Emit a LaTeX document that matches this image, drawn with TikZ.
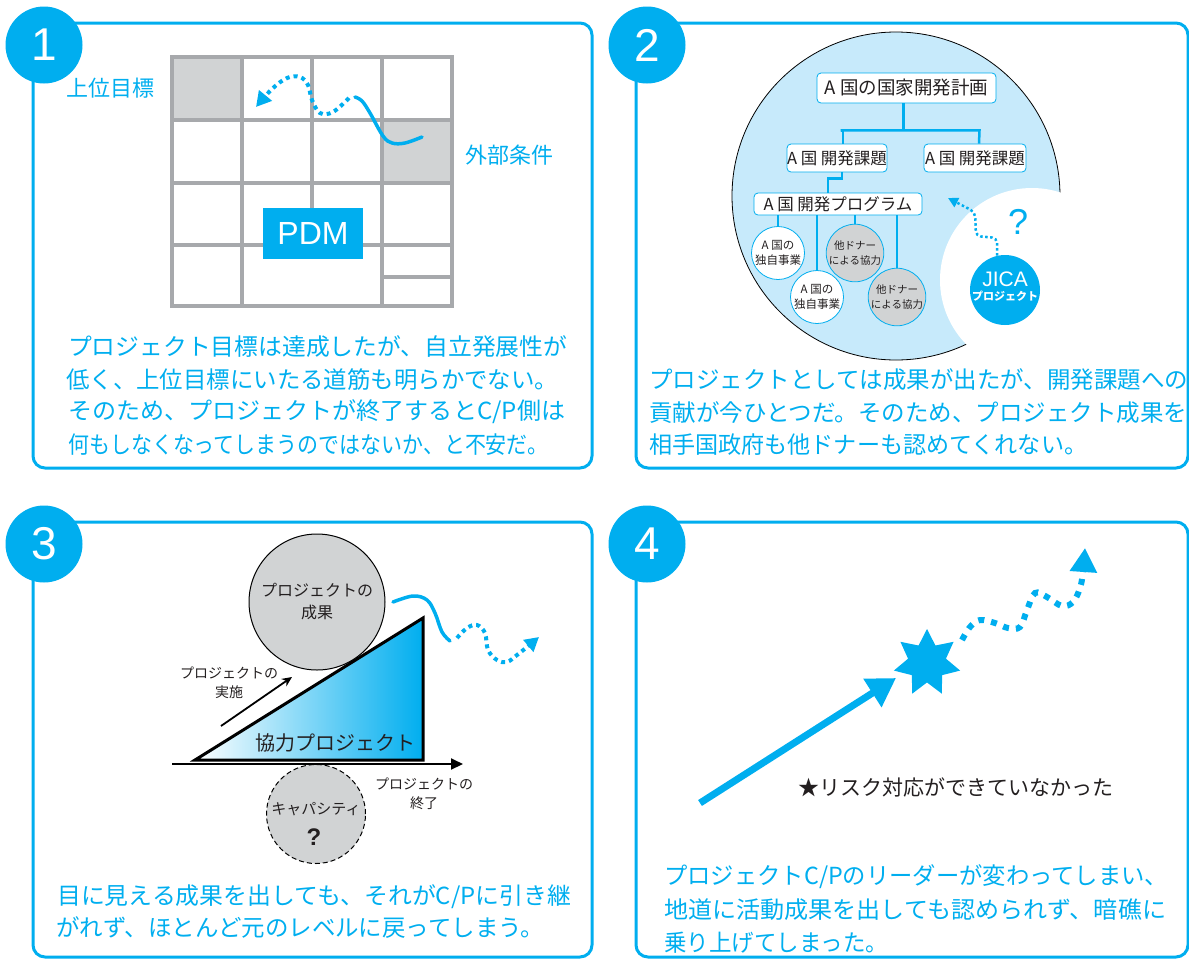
\documentclass[tikz,border=0pt]{standalone}
\usepackage{fontspec}
\usepackage{graphicx}
\setmainfont{Noto Sans CJK JP}
\newfontfamily\latf{Liberation Sans}
\usetikzlibrary{arrows.meta,shapes.geometric}
\definecolor{cy}{HTML}{00AEEF}
\definecolor{lb}{HTML}{C7EAFB}
\definecolor{gr}{HTML}{D1D3D4}
\definecolor{gl}{HTML}{A7A9AC}
\definecolor{ink}{HTML}{231F20}
\newcommand{\fl}[2]{\resizebox{#1pt}{\height}{#2}}
\newcommand{\fs}[1]{\fontsize{#1}{#1}\selectfont}
\begin{document}
\begin{tikzpicture}[x=1pt,y=-1pt,
  frame/.style={draw=cy,line width=3pt,rounded corners=12pt},
  numc/.style={circle,fill=cy,minimum size=77pt,inner sep=0pt,text=white,font=\latf\fs{46}},
  body/.style={anchor=west,inner sep=0pt,text=cy,font=\fs{23.5}},
  lab/.style={inner sep=0pt,text=cy,font=\fs{22}},
  gridl/.style={draw=gl,line width=3.5pt},
  dotl/.style={draw=cy,line width=4pt,dash pattern=on 4pt off 4pt},
  solidw/.style={draw=cy,line width=3.5pt,line cap=round},
  tbox/.style={draw=cy,line width=0.8pt,fill=white,rounded corners=4pt,inner sep=0pt,text=ink},
  conn/.style={draw=cy,line width=2.5pt},
  sc/.style={circle,draw=cy,line width=0.8pt,minimum size=53pt,inner sep=0pt,align=center,text=ink},
  dk/.style={text=ink,inner sep=0pt}
]
\useasboundingbox (0,0) rectangle (1189,962);
\clip (0,0) rectangle (1189,962);

% ---------------- frames ----------------
\draw[frame] (33,23) rectangle (592,468);
\draw[frame] (636,23) rectangle (1188,468);
\draw[frame] (33,522) rectangle (592,957);
\draw[frame] (636,522) rectangle (1188,957);
\node[numc] (n1) at (44,45) {1};
\node[numc] (n2) at (647,45) {2};
\node[numc] (n3) at (44,544) {3};
\node[numc] (n4) at (647,544) {4};

% ---------------- panel 1 ----------------
\fill[gr] (172,57) rectangle (242,120);
\fill[gr] (382,120) rectangle (452,183);
\draw[gridl] (172,57) rectangle (452,306);
\draw[gridl] (172,120) -- (452,120) (172,183) -- (452,183) (172,245) -- (452,245) (382,277) -- (452,277);
\draw[gridl] (242,57) -- (242,306) (312,57) -- (312,245) (382,57) -- (382,306);
\node[fill=cy,minimum width=100pt,minimum height=51pt,inner sep=0pt,text=white,font=\latf\fs{32}] (pdm) at (313,233) {PDM};
\node[lab] (ujo) at (110,88) {上位目標};
\node[lab] (gai) at (509,155) {外部条件};
\draw[solidw] plot[smooth,tension=0.6] coordinates {(422,137) (405,143) (392,143) (383,136) (370,113) (362,101) (355,97)};
\draw[dotl,-{Triangle[length=15pt,width=16pt]}] plot[smooth,tension=0.6] coordinates {(349,98) (333,112) (320,113) (312,100) (308,85) (300,77) (287,78) (272,89) (256,107)};
\node[body] (p1a) at (68,347) {\fl{499}{プロジェクト目標は達成したが、自立発展性が}};
\node[body] (p1b) at (66,380) {\fl{492}{低く、上位目標にいたる道筋も明らかでない。}};
\node[body] (p1c) at (68,412) {\fl{497}{そのため、プロジェクトが終了するとC/P側は}};
\node[body] (p1d) at (68,445) {\fl{480}{何もしなくなってしまうのではないか、と不安だ。}};

% ---------------- panel 2 ----------------
\fill[lb,draw=black,line width=0.8pt] (896,196) circle (164);
\fill[white] (1032,280) circle (92);
\node[tbox,minimum width=179pt,minimum height=30pt,font=\fs{18.5}] (t0) at (906.5,88) {A 国の国家開発計画};
\node[tbox,minimum width=100pt,minimum height=28pt,font=\fs{16.5}] (t1) at (837,158) {A 国 開発課題};
\node[tbox,minimum width=102pt,minimum height=28pt,font=\fs{16.5}] (t2) at (975,158) {A 国 開発課題};
\node[tbox,minimum width=168pt,minimum height=22pt,font=\fs{16.5}] (t3) at (838,204) {A 国 開発プログラム};
\draw[conn] ([xshift=-3pt]t0.south) -- ++(0,27) coordinate (j0);
\draw[conn] ([xshift=-63pt]j0) -| ([xshift=6pt]t1.north);
\draw[conn] ([xshift=-63pt]j0) -- ([xshift=76pt]j0) -- ([xshift=4pt]t2.north);
\draw[conn] ([xshift=5pt]t1.south) -- ++(0,6) -| ([xshift=-10pt]t3.north);
\coordinate (c1p) at (778,253);
\coordinate (c2p) at (817,297);
\coordinate (c3p) at (855,253);
\coordinate (c4p) at (897,297);
\draw[conn,line width=2pt] (c1p |- t3.south) -- (c1p);
\draw[conn,line width=2pt] (c2p |- t3.south) -- (c2p);
\draw[conn,line width=2pt] (c3p |- t3.south) -- (c3p);
\draw[conn,line width=2pt] (c4p |- t3.south) -- (c4p);
\node[sc,fill=white,font=\fontsize{11.5}{15}\selectfont] (c1) at (c1p) {A 国の\\独自事業};
\node[sc,fill=white,font=\fontsize{11.5}{15}\selectfont] (c2) at (c2p) {A 国の\\独自事業};
\node[sc,fill=gr,font=\fontsize{10.5}{15}\selectfont] (c3) at (c3p) {他ドナー\\による協力};
\node[sc,fill=gr,font=\fontsize{10.5}{15}\selectfont] (c4) at (c4p) {他ドナー\\による協力};
\node[circle,fill=cy,minimum size=70pt,inner sep=0pt] (jica) at (1005,290) {};
\node[text=white,inner sep=0pt,font=\latf\fs{21}] (jicat) at (1005,279) {JICA};
\node[text=white,inner sep=0pt,font=\bfseries\fs{11}] (jicap) at (1005,296) {プロジェクト};
\node[text=cy,inner sep=0pt,font=\latf\fs{36}] (q2) at (1018,222) {?};
\coordinate (a2end) at (948,198);
\draw[draw=cy,line width=2.5pt,dash pattern=on 2.5pt off 2.5pt,rounded corners=5pt,-{Triangle[length=10pt,width=10pt]}] (jica.103) -- (997,238) -- (976,236) -- (975,212) -- (a2end);
\node[body] (p2a) at (649,380) {プロジェクトとしては成果が出たが、開発課題への};
\node[body] (p2b) at (649,413) {貢献が今ひとつだ。そのため、プロジェクト成果を};
\node[body] (p2c) at (649,445) {\fl{438}{相手国政府も他ドナーも認めてくれない。}};

% ---------------- panel 3 ----------------
\node[circle,draw=black,line width=1pt,fill=gr,minimum size=136pt,inner sep=0pt,align=center,text=ink,font=\fontsize{16}{22}\selectfont] (out) at (317,602) {プロジェクトの\\成果};
\shade[left color=white,right color=cy] (195,760) -- (423,618) -- (423,760) -- cycle;
\draw[black,line width=3pt,line join=miter] (195,760) -- (423,618) -- (423,760) -- cycle;
\node[dk,font=\fs{20}] (kyo) at (335,743) {協力プロジェクト};
\node[circle,draw=black,line width=1pt,dash pattern=on 5pt off 3pt,fill=gr,minimum size=99pt,inner sep=0pt] (cap) at (316,814) {};
\node[dk,font=\fs{15}] (capt) at (316,809) {キャパシティ};
\node[dk,font=\latf\bfseries\fs{24}] (capq) at (314,837) {?};
\coordinate (ax0) at (172,764);
\coordinate (ax1) at (463,764);
\draw[black,line width=2pt,-{Triangle[length=12pt,width=11pt]}] (ax0) -- (ax1);
\coordinate (im0) at (221,726);
\coordinate (im1) at (292,677);
\draw[black,line width=1.8pt,-{Stealth[length=10pt,width=9pt]}] (im0) -- (im1);
\node[dk,align=center,font=\fontsize{14}{19}\selectfont] (jis) at (229,683) {プロジェクトの\\実施};
\node[dk,align=center,font=\fontsize{14}{19}\selectfont] (shu) at (424,794) {プロジェクトの\\終了};
\draw[solidw] plot[smooth,tension=0.6] coordinates {(393,602) (413,596) (427,600) (435,613) (442,632) (450,641)};
\draw[dotl,-{Triangle[length=14pt,width=15pt]}] plot[smooth,tension=0.6] coordinates {(457,638) (467,628) (477,625) (485,633) (488,650) (497,660) (507,662) (517,655) (527,647) (539,637)};
\node[body] (p3a) at (57,897) {\fl{514}{目に見える成果を出しても、それがC/Pに引き継}};
\node[body] (p3b) at (56,928) {\fl{488}{がれず、ほとんど元のレベルに戻ってしまう。}};

% ---------------- panel 4 ----------------
\node[star,star points=7,star point ratio=1.75,minimum size=68pt,inner sep=0pt,fill=cy] (st) at (927,663) {};
\coordinate (b0) at (700,803);
\coordinate (b1) at (896,678);
\draw[cy,line width=7pt,-{Triangle[length=28pt,width=32pt]}] (b0) -- (b1);
\draw[draw=cy,line width=6pt,dash pattern=on 6pt off 7pt,-{Triangle[length=24pt,width=26pt]}] plot[smooth,tension=0.6] coordinates {(962,640) (970,627) (980,620) (995,623) (1008,628) (1020,627) (1027,610) (1035,593) (1047,597) (1062,606) (1073,602) (1080,588) (1083,572) (1085,548)};
\node[dk,anchor=west,font=\fs{21}] (risk) at (798,787) {★リスク対応ができていなかった};
\node[body] (p4a) at (664,877) {\fl{504}{プロジェクトC/Pのリーダーが変わってしまい、}};
\node[body] (p4b) at (664,910) {\fl{502}{地道に活動成果を出しても認められず、暗礁に}};
\node[body] (p4c) at (664,943) {\fl{224}{乗り上げてしまった。}};
\end{tikzpicture}
\end{document}
